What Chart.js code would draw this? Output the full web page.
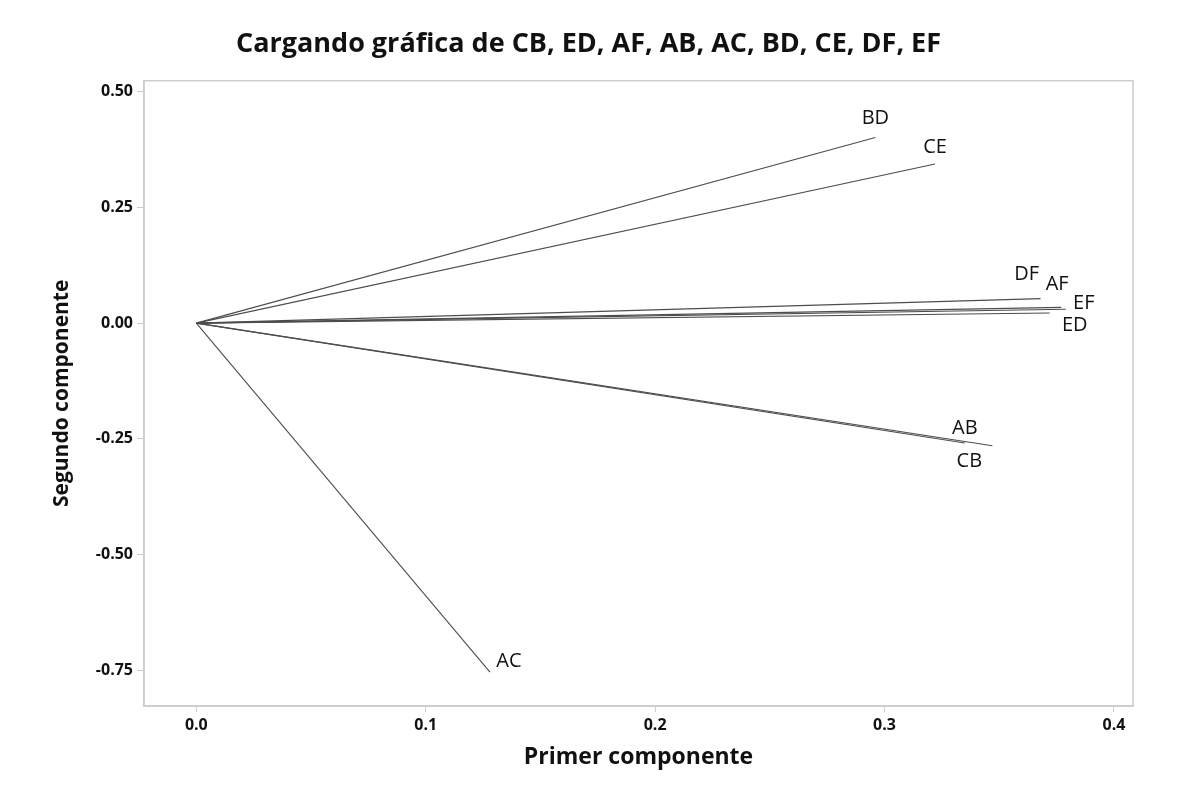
<!DOCTYPE html>
<html>
<head>
<meta charset="utf-8">
<script src="https://cdn.jsdelivr.net/npm/chart.js@4.4.1/dist/chart.umd.min.js"></script>
<style>
  html, body { margin: 0; padding: 0; background: #fff; }
  #wrap { width: 1177px; height: 792px; }
</style>
</head>
<body>
<div id="wrap"><canvas id="loadingChart" width="1177" height="792"></canvas></div>
<script>
// --- Data (loadings of first and second component) ---
const vectorNames = ['CB', 'ED', 'AF', 'AB', 'AC', 'BD', 'CE', 'DF', 'EF'];
const firstComp   = [0.347, 0.372, 0.377, 0.335, 0.128, 0.296, 0.322, 0.368, 0.379];
const secondComp  = [-0.265, 0.022, 0.034, -0.259, -0.754, 0.401, 0.344, 0.053, 0.030];
const xTicks = [0.0, 0.1, 0.2, 0.3, 0.4];
const yTicks = [-0.75, -0.50, -0.25, 0.00, 0.25, 0.50];

// label offsets in pixels from the end of each vector
const labelOffsets = {
    CB: [-23, 16], ED: [25, 12], AF: [-4, -23], AB: [0, -15], AC: [19, -11],
    BD: [0, -19], CE: [0, -17], DF: [-14, -24], EF: [18, -6]
};

const FONT = "'Open Sans', 'Noto Sans', sans-serif";

const datasets = vectorNames.map((name, i) => ({
    label: name,
    data: [{ x: 0, y: 0 }, { x: firstComp[i], y: secondComp[i] }],
    showLine: true,
    borderColor: '#4d4d4d',
    borderWidth: 1.1,
    pointRadius: 0,
    pointHoverRadius: 0
}));

// draw the vector names next to their end points
const vectorLabels = {
    id: 'vectorLabels',
    afterDatasetsDraw(chart) {
        const ctx = chart.ctx;
        const xs = chart.scales.x, ys = chart.scales.y;
        ctx.save();
        ctx.font = '20px ' + FONT;
        ctx.fillStyle = '#111';
        ctx.textAlign = 'center';
        ctx.textBaseline = 'middle';
        vectorNames.forEach((name, i) => {
            const off = labelOffsets[name];
            ctx.fillText(name, xs.getPixelForValue(firstComp[i]) + off[0],
                               ys.getPixelForValue(secondComp[i]) + off[1]);
        });
        ctx.restore();
    }
};

new Chart(document.getElementById('loadingChart'), {
    type: 'scatter',
    data: { datasets: datasets },
    options: {
        responsive: false,
        animation: false,
        layout: { padding: 0 },
        plugins: {
            legend: { display: false },
            tooltip: { enabled: false },
            title: {
                display: true,
                text: 'Cargando gráfica de CB, ED, AF, AB, AC, BD, CE, DF, EF',
                color: '#111',
                font: { family: FONT, size: 27, weight: 'bold' },
                padding: { top: 28, bottom: 20.3 }
            }
        },
        scales: {
            x: {
                type: 'linear',
                min: -0.0228,
                max: 0.4083,
                afterBuildTicks: s => { s.ticks = xTicks.map(v => ({ value: v })); },
                afterFit: s => { s.height = 86; },
                border: { display: true, color: '#cccccc', width: 1.5 },
                grid: { drawOnChartArea: false, drawTicks: true, tickLength: 6, color: '#cccccc' },
                ticks: {
                    color: '#111',
                    font: { family: FONT, size: 16, weight: 'bold' },
                    padding: 4,
                    callback: v => v.toFixed(1)
                },
                title: {
                    display: true,
                    text: 'Primer componente',
                    color: '#111',
                    font: { family: FONT, size: 23, weight: 'bold' },
                    padding: { top: 21, bottom: 21 }
                }
            },
            y: {
                type: 'linear',
                min: -0.8273,
                max: 0.5238,
                afterBuildTicks: s => { s.ticks = yTicks.map(v => ({ value: v })); },
                afterFit: s => { s.width = 144; },
                border: { display: true, color: '#cccccc', width: 1.5 },
                grid: { drawOnChartArea: false, drawTicks: true, tickLength: 7, color: '#cccccc' },
                ticks: {
                    color: '#111',
                    font: { family: FONT, size: 16, weight: 'bold' },
                    padding: 4,
                    callback: v => v.toFixed(2)
                },
                title: {
                    display: true,
                    text: 'Segundo componente',
                    color: '#111',
                    font: { family: FONT, size: 21, weight: 'bold' },
                    padding: { top: 49, bottom: 49 }
                }
            },
            // empty right-hand strip so the title centres on the whole figure
            yRight: {
                type: 'linear',
                position: 'right',
                display: true,
                afterFit: s => { s.width = 44; },
                border: { display: false },
                grid: { display: false },
                ticks: { display: false }
            }
        }
    },
    plugins: [vectorLabels, {
        // frame around the plot area
        id: 'frame',
        beforeDatasetsDraw(chart) {
            const { ctx, chartArea: a } = chart;
            ctx.save();
            ctx.strokeStyle = '#cccccc';
            ctx.lineWidth = 1.5;
            ctx.strokeRect(a.left, a.top, a.right - a.left, a.bottom - a.top);
            ctx.restore();
        }
    }]
});
</script>
</body>
</html>
